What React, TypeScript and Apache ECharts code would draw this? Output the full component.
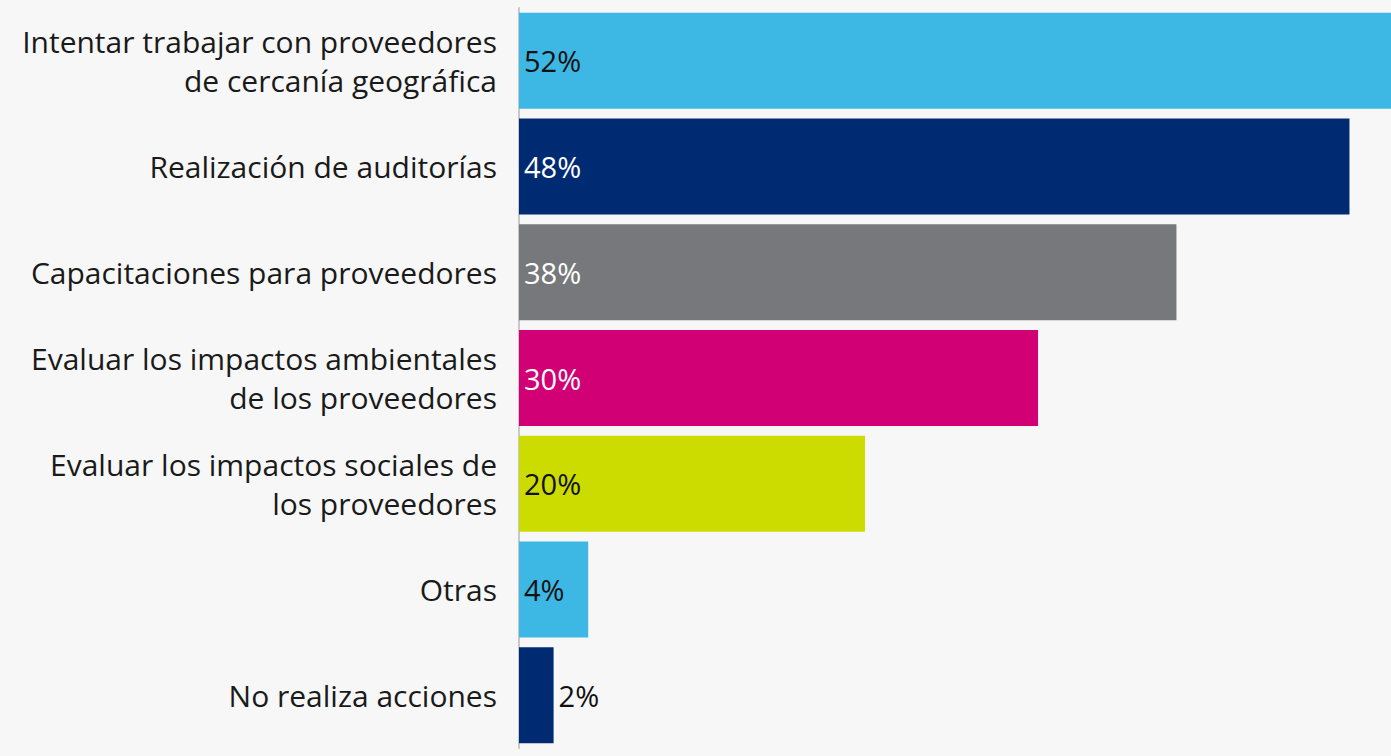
import React, { useEffect, useRef } from "react";
import * as echarts from "echarts";

const categories = [
  "Intentar trabajar con proveedores\nde cercanía geográfica",
  "Realización de auditorías",
  "Capacitaciones para proveedores",
  "Evaluar los impactos ambientales\nde los proveedores",
  "Evaluar los impactos sociales de\nlos proveedores",
  "Otras",
  "No realiza acciones",
];
const values = [52, 48, 38, 30, 20, 4, 2];
const barColors = ["#3db8e4", "#002b73", "#77787b", "#d10074", "#cddc00", "#3db8e4", "#002b73"];
const labelColors = ["#111111", "#ffffff", "#ffffff", "#ffffff", "#111111", "#111111", "#111111"];
const labelPositions = ["insideLeft", "insideLeft", "insideLeft", "insideLeft", "insideLeft", "insideLeft", "right"];

export default function App() {
  const ref = useRef<HTMLDivElement>(null);
  useEffect(() => {
    document.body.style.margin = "0";
    if (!ref.current) return;
    const chart = echarts.init(ref.current, undefined, { renderer: "svg" });
    const font = "'Open Sans', 'Noto Sans', sans-serif";
    chart.setOption({
      animation: false,
      backgroundColor: "#f7f7f7",
      grid: { left: 519, top: 8, right: 0, height: 740, containLabel: false },
      xAxis: {
        type: "value",
        min: 0,
        max: 50.4,
        show: false,
        splitLine: { show: false },
      },
      yAxis: {
        type: "category",
        data: categories,
        inverse: true,
        axisLine: { show: true, lineStyle: { color: "#c8c8c8", width: 2 } },
        axisTick: { show: false },
        axisLabel: {
          color: "#1a1a1a",
          fontSize: 30,
          fontFamily: font,
          lineHeight: 39,
          margin: 22,
          align: "right",
        },
      },
      series: [
        {
          type: "bar",
          barCategoryGap: "9.2%",
          clip: true,
          data: values.map((v, i) => ({
            value: v,
            itemStyle: { color: barColors[i] },
            label: {
              show: true,
              position: labelPositions[i],
              distance: 5,
              color: labelColors[i],
              fontSize: 29,
              fontFamily: font,
              formatter: "{c}%",
            },
          })),
        },
      ],
    });
    return () => chart.dispose();
  }, []);
  return <div ref={ref} style={{ width: 1391, height: 756, background: "#f7f7f7" }} />;
}
